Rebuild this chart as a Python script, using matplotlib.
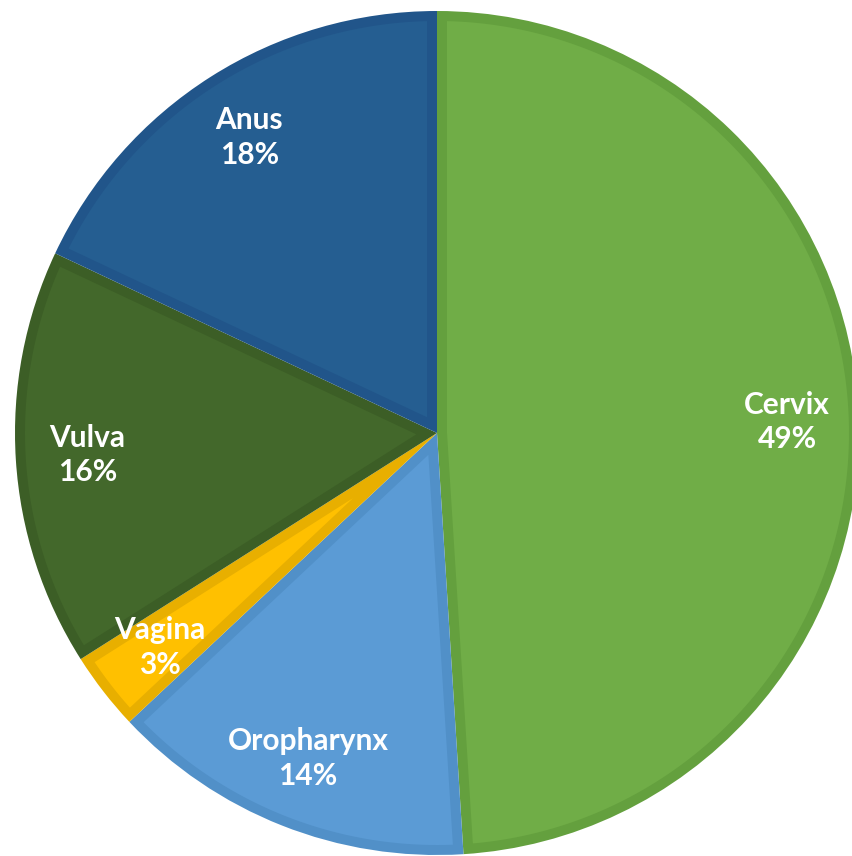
import matplotlib
matplotlib.use("Agg")
import matplotlib.pyplot as plt
from matplotlib.patches import Polygon
import numpy as np

sites = ["Cervix", "Oropharynx", "Vagina", "Vulva", "Anus"]
shares = [49, 14, 3, 16, 18]
fill_colors = ["#70AD47", "#5B9BD5", "#FFC000", "#43682B", "#255E91"]
edge_colors = ["#64A03E", "#5190C8", "#E8AF00", "#3C5E26", "#21558A"]

fig = plt.figure(figsize=(8.53, 8.56), dpi=100)
ax = fig.add_axes([0, 0, 1, 1])

R = 422.0
cx, cy = 437.0, 433.0
border = 10.0 / R

# outer slices in the border colour, lighter inset on top
wedges, _ = ax.pie(shares, colors=edge_colors, startangle=90, counterclock=False,
                   radius=1.0, wedgeprops=dict(linewidth=0))

for w, fc in zip(wedges, fill_colors):
    t1, t2 = np.deg2rad(w.theta1), np.deg2rad(w.theta2)
    half = (t2 - t1) / 2
    ri = 1.0 - border
    d = np.arcsin(border / ri)
    apex_r = border / np.sin(half)
    bis = (t1 + t2) / 2
    ts = np.linspace(t1 + d, t2 - d, 200)
    pts = [(apex_r * np.cos(bis), apex_r * np.sin(bis))]
    pts += [(ri * np.cos(t), ri * np.sin(t)) for t in ts]
    ax.add_patch(Polygon(pts, closed=True, facecolor=fc, edgecolor="none"))

for w, name, val in zip(wedges, sites, shares):
    mid = np.deg2rad((w.theta1 + w.theta2) / 2)
    r = 0.83
    ax.text(r * np.cos(mid), r * np.sin(mid), f"{name}\n{val}%",
            ha="center", va="center", color="white", fontsize=21.5,
            fontweight="bold", family="Lato", linespacing=1.3)

ax.set_axis_off()
ax.set_xlim(-cx / R, (853 - cx) / R)
ax.set_ylim((cy - 856) / R, cy / R)
ax.set_aspect("auto")

fig.savefig("out.png", dpi=100)
